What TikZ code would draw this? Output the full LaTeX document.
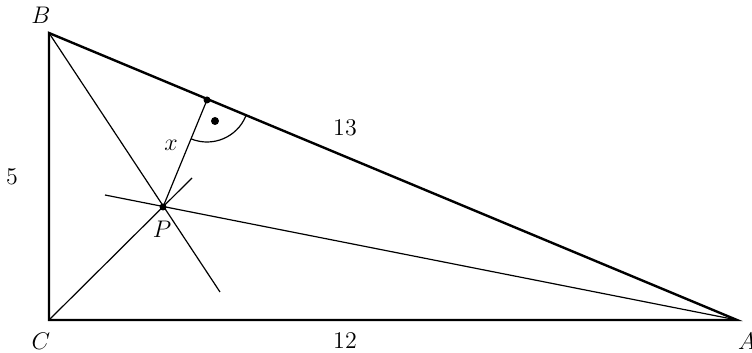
\documentclass[tikz,border=0pt]{standalone}
\usepackage{amsmath}
\usetikzlibrary{angles}

\tikzset{
  side/.style={line width=1.2pt},
  ray/.style={line width=0.6pt},
  lbl/.style={font=\large},
  pt/.style={circle,fill=black,inner sep=0pt,minimum size=3.5pt}
}

\begin{document}
\begin{tikzpicture}[x=0.5pt,y=-0.5pt]
        \useasboundingbox (0,0) rectangle (752,353);
        \coordinate (C) at (49,320);
        \coordinate (B) at (49,33);
        \coordinate (A) at (737,320);
        \coordinate (P) at (163,207);
        \coordinate (F) at (207,100);
        \coordinate (Bend) at (220,292);
        \coordinate (Cend) at (192,178);
        \coordinate (Aend) at (105,195);
        % rays through P
        \draw[ray] (B) -- (Bend);
        \draw[ray] (C) -- (Cend);
        \draw[ray] (A) -- (Aend);
        \draw[ray] (F) -- (P);
        \pic[draw,ray,angle radius=21pt] {angle=P--F--A};
        \fill (215,121) circle (2pt);
        % triangle
        \draw[side,line join=miter] (B) -- (C) -- (A) -- cycle;
        \node[pt] at (P) {};
        \node[pt] at (F) {};
        \node[lbl] (lB) at (41,15) {$B$};
        \node[lbl] (lC) at (41,341) {$C$};
        \node[lbl] (lA) at (747,341) {$A$};
        \node[lbl] (lP) at (162,229) {$P$};
        \node[lbl] (lx) at (171,145) {$x$};
        \node[lbl] (l5) at (12,177) {5};
        \node[lbl] (l13) at (345,128) {13};
        \node[lbl] (l12) at (345,341) {12};
    \end{tikzpicture}
\end{document}
